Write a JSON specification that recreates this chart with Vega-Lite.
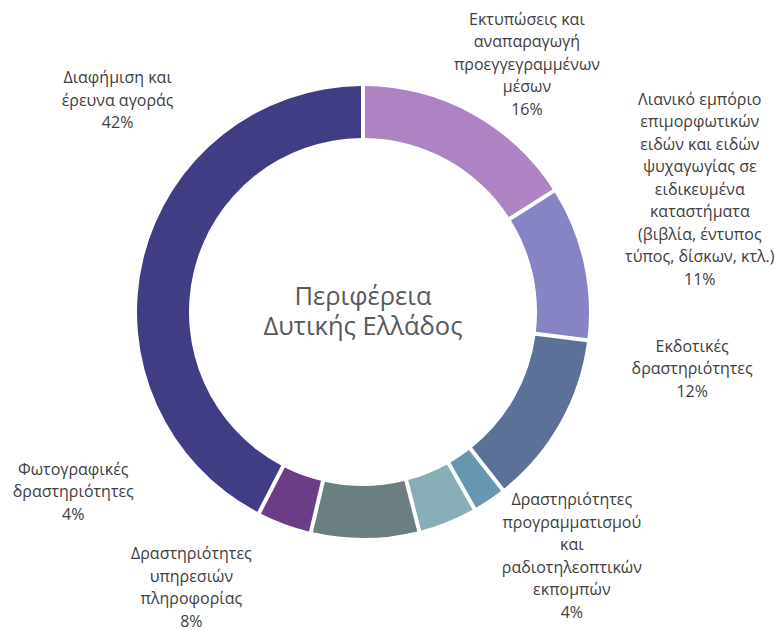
{
  "$schema": "https://vega.github.io/schema/vega-lite/v6.json",
  "width": 726,
  "height": 624,
  "padding": {"left": 0, "top": 0, "right": 50, "bottom": 6},
  "autosize": {"type": "none"},
  "background": "white",
  "config": {"view": {"stroke": null}, "text": {"font": "Open Sans"}},
  "datasets": {
    "shares": [
      {"ord": 1, "cat": "Εκτυπώσεις και αναπαραγωγή προεγγεγραμμένων μέσων", "value": 16.0, "label": "Εκτυπώσεις και\nαναπαραγωγή\nπροεγγεγραμμένων\nμέσων\n16%"},
      {"ord": 2, "cat": "Λιανικό εμπόριο επιμορφωτικών ειδών και ειδών ψυχαγωγίας σε ειδικευμένα καταστήματα (βιβλία, έντυπος τύπος, δίσκων, κτλ.)", "value": 11.0, "label": "Λιανικό εμπόριο\nεπιμορφωτικών\nειδών και ειδών\nψυχαγωγίας σε\nειδικευμένα\nκαταστήματα\n(βιβλία, έντυπος\nτύπος, δίσκων, κτλ.)\n11%"},
      {"ord": 3, "cat": "Εκδοτικές δραστηριότητες", "value": 12.4, "label": "Εκδοτικές\nδραστηριότητες\n12%"},
      {"ord": 4, "cat": "Άλλες δραστηριότητες", "value": 2.4, "label": ""},
      {"ord": 5, "cat": "Δραστηριότητες προγραμματισμού και ραδιοτηλεοπτικών εκπομπών", "value": 4.2, "label": "Δραστηριότητες\nπρογραμματισμού\nκαι\nραδιοτηλεοπτικών\nεκπομπών\n4%"},
      {"ord": 6, "cat": "Δραστηριότητες υπηρεσιών πληροφορίας", "value": 7.7, "label": "Δραστηριότητες\nυπηρεσιών\nπληροφορίας\n8%"},
      {"ord": 7, "cat": "Φωτογραφικές δραστηριότητες", "value": 3.9, "label": "Φωτογραφικές\nδραστηριότητες\n4%"},
      {"ord": 8, "cat": "Διαφήμιση και έρευνα αγοράς", "value": 42.4, "label": "Διαφήμιση και\nέρευνα αγοράς\n42%"}
    ]
  },
  "layer": [
    {
      "data": {"name": "shares"},
      "mark": {"type": "arc", "innerRadius": 174, "outerRadius": 226, "padAngle": 0.014},
      "encoding": {
        "theta": {"field": "value", "type": "quantitative", "stack": true},
        "order": {"field": "ord", "type": "quantitative"},
        "color": {
          "field": "cat", "type": "nominal", "legend": null,
          "scale": {
            "domain": ["Εκτυπώσεις και αναπαραγωγή προεγγεγραμμένων μέσων", "Λιανικό εμπόριο επιμορφωτικών ειδών και ειδών ψυχαγωγίας σε ειδικευμένα καταστήματα (βιβλία, έντυπος τύπος, δίσκων, κτλ.)", "Εκδοτικές δραστηριότητες", "Άλλες δραστηριότητες", "Δραστηριότητες προγραμματισμού και ραδιοτηλεοπτικών εκπομπών", "Δραστηριότητες υπηρεσιών πληροφορίας", "Φωτογραφικές δραστηριότητες", "Διαφήμιση και έρευνα αγοράς"],
            "range": ["#ae83c3", "#8784c6", "#5c7198", "#6598b0", "#87adb7", "#6b7f80", "#6b3d87", "#403d85"]
          }
        }
      }
    },
    {
      "data": {"name": "shares"},
      "mark": {"type": "text", "radius": 335, "thetaOffset": 0.0087, "fontSize": 16, "lineHeight": 22.5, "lineBreak": "\n", "color": "#404040", "align": "center", "baseline": "middle"},
      "encoding": {
        "theta": {"field": "value", "type": "quantitative", "stack": true},
        "order": {"field": "ord", "type": "quantitative"},
        "text": {"condition": {"test": "datum.ord === 1", "field": "label"}, "value": ""}
      }
    },
    {
      "data": {"name": "shares"},
      "mark": {"type": "text", "radius": 398, "thetaOffset": -0.342, "fontSize": 16, "lineHeight": 22.5, "lineBreak": "\n", "color": "#404040", "align": "center", "baseline": "middle"},
      "encoding": {
        "theta": {"field": "value", "type": "quantitative", "stack": true},
        "order": {"field": "ord", "type": "quantitative"},
        "text": {"condition": {"test": "datum.ord === 2", "field": "label"}, "value": ""}
      }
    },
    {
      "data": {"name": "shares"},
      "mark": {"type": "text", "radius": 331, "thetaOffset": -0.4093, "fontSize": 16, "lineHeight": 22.5, "lineBreak": "\n", "color": "#404040", "align": "center", "baseline": "middle"},
      "encoding": {
        "theta": {"field": "value", "type": "quantitative", "stack": true},
        "order": {"field": "ord", "type": "quantitative"},
        "text": {"condition": {"test": "datum.ord === 3", "field": "label"}, "value": ""}
      }
    },
    {
      "data": {"name": "shares"},
      "mark": {"type": "text", "radius": 281, "thetaOffset": -0.4545, "fontSize": 16, "lineHeight": 22.5, "lineBreak": "\n", "color": "#404040", "align": "center", "baseline": "middle"},
      "encoding": {
        "theta": {"field": "value", "type": "quantitative", "stack": true},
        "order": {"field": "ord", "type": "quantitative"},
        "text": {"condition": {"test": "datum.ord === 5", "field": "label"}, "value": ""}
      }
    },
    {
      "data": {"name": "shares"},
      "mark": {"type": "text", "radius": 297, "thetaOffset": 0.6255, "fontSize": 16, "lineHeight": 22.5, "lineBreak": "\n", "color": "#404040", "align": "center", "baseline": "middle"},
      "encoding": {
        "theta": {"field": "value", "type": "quantitative", "stack": true},
        "order": {"field": "ord", "type": "quantitative"},
        "text": {"condition": {"test": "datum.ord === 6", "field": "label"}, "value": ""}
      }
    },
    {
      "data": {"name": "shares"},
      "mark": {"type": "text", "radius": 330, "thetaOffset": 0.7167, "fontSize": 16, "lineHeight": 22.5, "lineBreak": "\n", "color": "#404040", "align": "center", "baseline": "middle"},
      "encoding": {
        "theta": {"field": "value", "type": "quantitative", "stack": true},
        "order": {"field": "ord", "type": "quantitative"},
        "text": {"condition": {"test": "datum.ord === 7", "field": "label"}, "value": ""}
      }
    },
    {
      "data": {"name": "shares"},
      "mark": {"type": "text", "radius": 339, "thetaOffset": 0.5226, "fontSize": 16, "lineHeight": 22.5, "lineBreak": "\n", "color": "#404040", "align": "center", "baseline": "middle"},
      "encoding": {
        "theta": {"field": "value", "type": "quantitative", "stack": true},
        "order": {"field": "ord", "type": "quantitative"},
        "text": {"condition": {"test": "datum.ord === 8", "field": "label"}, "value": ""}
      }
    },
    {
      "data": {"values": [{"region": "Περιφέρεια\nΔυτικής Ελλάδος"}]},
      "mark": {"type": "text", "fontSize": 25.5, "lineHeight": 30, "lineBreak": "\n", "color": "#595959", "align": "center", "baseline": "middle", "dy": -15},
      "encoding": {"text": {"field": "region"}}
    }
  ]
}
